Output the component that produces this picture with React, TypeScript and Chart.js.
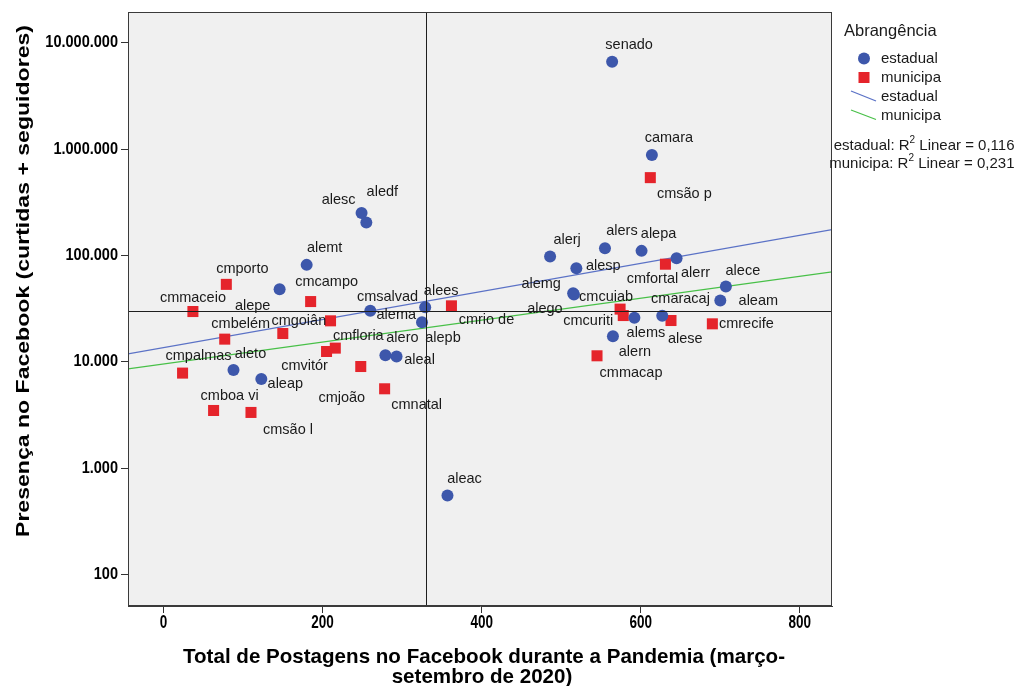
import { useEffect, useRef } from "react";
import { Chart, registerables } from "chart.js";

Chart.register(...registerables);

// Assembleias estaduais, Senado e Câmara
const estadualNames = [
  "senado", "camara", "alesc", "aledf", "alemt", "alepe", "alema", "alees", "alepb",
  "aleto", "aleap", "alero", "aleal", "aleac", "alerj", "alers", "alepa", "alesp",
  "alerr", "alece", "alemg", "alego", "aleam", "alems", "alese", "alern",
];
const estadualPosts = [
  564, 614, 249, 255, 180, 146, 260, 329, 325,
  88, 123, 279, 293, 357, 486, 555, 601, 519,
  645, 707, 515, 516, 700, 592, 627, 565,
];
const estadualPresence = [
  6640000, 882000, 251500, 203800, 81600, 48250, 30150, 32670, 23610,
  8360, 6880, 11510, 11220, 554, 97650, 117100, 110500, 75950,
  94300, 51000, 44240, 43000, 37680, 25900, 27050, 17370,
];

// Câmaras municipais das capitais
const municipaNames = [
  "cmsão p", "cmporto", "cmcampo", "cmmaceio", "cmsalvad", "cmgoiân", "cmbelém",
  "cmfloria", "cmvitór", "cmjoão", "cmnatal", "cmpalmas", "cmboa vi", "cmsão l",
  "cmrio de", "cmfortal", "cmcuiab", "cmcuriti", "cmaracaj", "cmrecife", "cmmacap",
];
const municipaPosts = [
  612, 79, 185, 37, 210, 150, 77,
  216, 205, 248, 278, 24, 63, 110,
  362, 631, 574, 578, 638, 690, 545,
];
const municipaPresence = [
  539700, 53500, 36870, 29700, 24290, 18450, 16340,
  13450, 12500, 9030, 5575, 7830, 3485, 3340,
  33600, 82800, 31300, 27230, 24450, 22760, 11390,
];

// Axis ranges and ticks
const xMin = -44.6;
const xMax = 840.4;
const yMin = 50.5;
const yMax = 19500000;
const xTickValues = [0, 200, 400, 600, 800];
const yTickValues = [100, 1000, 10000, 100000, 1000000, 10000000];

// Reference lines (posts, presence)
const refPosts = 330;
const refPresence = 30150;

// Linear fits in log scale: values at xMin and xMax
const estadualFit = [11890, 175100];
const municipaFit = [8594, 70150];
const estadualR2 = "0,116";
const municipaR2 = "0,231";

const BLUE = "#3D57AB";
const RED = "#E5242B";
const BLUE_LINE = "#5B72C6";
const GREEN_LINE = "#48C048";
const PLOT_BG = "#F0F0F0";
const FONT = "'Liberation Sans', Arial, sans-serif";

// Label placement relative to each marker (label centre, px)
const labelOffsets: Record<string, [number, number]> = {
  senado: [17, -17], camara: [17, -17], alesc: [-23, -13], aledf: [16, -31],
  alemt: [18, -17], alepe: [-27, 17], alema: [26, 4], alees: [16, -16],
  alepb: [21, 16], aleto: [17, -16], aleap: [24, 5], alero: [17, -17],
  aleal: [23, 4], aleac: [17, -16], alerj: [17, -17], alers: [17, -17],
  alepa: [17, -17], alesp: [27, -2], alerr: [19, 15], alece: [17, -16],
  alemg: [-32, -9], alego: [-29, 15], aleam: [38, 0], alems: [11.5, 15],
  alese: [23, 23], alern: [22, 16],
  "cmsão p": [34, 16], cmporto: [16, -15.5], cmcampo: [16, -20], cmmaceio: [0, -13.5],
  cmsalvad: [57, -24], "cmgoiân": [16, -13], "cmbelém": [16, -15], cmfloria: [23, -12],
  "cmvitór": [-22, 14], "cmjoão": [-19, 31.5], cmnatal: [32, 16], cmpalmas: [16, -17],
  "cmboa vi": [16, -14.5], "cmsão l": [37, 18], "cmrio de": [35, 14], cmfortal: [-13, 15],
  cmcuiab: [-14, -12.6], cmcuriti: [-35, 5], cmaracaj: [9.5, -22], cmrecife: [34, 0],
  cmmacap: [34, 17],
};

const formatThousands = (v: number) =>
  String(Math.round(v)).replace(/\B(?=(\d{3})+(?!\d))/g, ".");

// Draws text with a horizontal squeeze factor
function squeezedText(
  ctx: CanvasRenderingContext2D,
  text: string,
  x: number,
  y: number,
  font: string,
  scaleX: number,
  align: CanvasTextAlign = "center",
  rotate = 0
) {
  ctx.save();
  ctx.font = font;
  ctx.translate(x, y);
  if (rotate) ctx.rotate(rotate);
  ctx.scale(scaleX, 1);
  ctx.textAlign = align;
  ctx.textBaseline = "middle";
  ctx.fillText(text, 0, 0);
  ctx.restore();
}

const decorations = {
  id: "decorations",
  beforeDraw(chart: Chart) {
    const { ctx, chartArea: a } = chart;
    ctx.save();
    ctx.fillStyle = "#ffffff";
    ctx.fillRect(0, 0, chart.width, chart.height);
    ctx.fillStyle = PLOT_BG;
    ctx.fillRect(a.left, a.top, a.right - a.left, a.bottom - a.top);
    ctx.restore();
  },
  afterDatasetsDraw(chart: Chart) {
    const { ctx, chartArea: a } = chart;
    const xs = chart.scales.x;
    const ys = chart.scales.y;
    ctx.save();
    // reference lines
    ctx.strokeStyle = "#1e1e1e";
    ctx.lineWidth = 1;
    const rx = Math.round(xs.getPixelForValue(refPosts)) + 0.5;
    const ry = Math.round(ys.getPixelForValue(refPresence)) + 0.5;
    ctx.beginPath();
    ctx.moveTo(rx, a.top);
    ctx.lineTo(rx, a.bottom);
    ctx.moveTo(a.left, ry);
    ctx.lineTo(a.right, ry);
    ctx.stroke();

    // point labels
    ctx.fillStyle = "#1a1a1a";
    ctx.font = `14.5px ${FONT}`;
    ctx.textAlign = "center";
    ctx.textBaseline = "middle";
    [0, 1].forEach((di) => {
      const names = di === 0 ? estadualNames : municipaNames;
      const meta = chart.getDatasetMeta(di);
      meta.data.forEach((el: any, i: number) => {
        const off = labelOffsets[names[i]] || [16, -16];
        ctx.fillText(names[i], el.x + off[0], el.y + off[1]);
      });
    });
    ctx.restore();
  },
  afterDraw(chart: Chart) {
    const { ctx, chartArea: a } = chart;
    const xs = chart.scales.x;
    const ys = chart.scales.y;
    ctx.save();
    // plot frame
    ctx.strokeStyle = "#3a3a3a";
    ctx.lineWidth = 1;
    ctx.strokeRect(a.left + 0.5, a.top + 0.5, a.right - a.left - 1, a.bottom - a.top - 1);

    // tick labels (condensed bold)
    ctx.fillStyle = "#000000";
    xTickValues.forEach((v) => {
      squeezedText(ctx, String(v), xs.getPixelForValue(v), a.bottom + 17, `bold 18px ${FONT}`, 0.75);
    });
    yTickValues.forEach((v) => {
      squeezedText(ctx, formatThousands(v), a.left - 10, ys.getPixelForValue(v), `bold 16.5px ${FONT}`, 0.88, "right");
    });

    // axis titles
    const xFont = `bold 21px ${FONT}`;
    ctx.font = xFont;
    const line1 = "Total de Postagens no Facebook durante a Pandemia (março-";
    const line2 = "setembro de 2020)";
    const s1 = 602 / ctx.measureText(line1).width;
    squeezedText(ctx, line1, 484, 657, xFont, s1);
    squeezedText(ctx, line2, 482, 677, xFont, s1);

    const yFont = `bold 19px ${FONT}`;
    ctx.font = yFont;
    const yTitle = "Presença no Facebook (curtidas + seguidores)";
    const sy = 512 / ctx.measureText(yTitle).width;
    squeezedText(ctx, yTitle, 24, 281, yFont, sy, "center", -Math.PI / 2);

    // legend
    ctx.fillStyle = "#1a1a1a";
    ctx.textAlign = "left";
    ctx.textBaseline = "middle";
    ctx.font = `16.5px ${FONT}`;
    ctx.fillText("Abrangência", 844, 31);
    ctx.font = `15px ${FONT}`;
    ctx.fillStyle = BLUE;
    ctx.beginPath();
    ctx.arc(864, 58.5, 6, 0, Math.PI * 2);
    ctx.fill();
    ctx.fillStyle = RED;
    ctx.fillRect(858.5, 72, 11, 11);
    ctx.lineWidth = 1.2;
    ctx.strokeStyle = BLUE_LINE;
    ctx.beginPath();
    ctx.moveTo(851, 91);
    ctx.lineTo(876, 101);
    ctx.stroke();
    ctx.strokeStyle = GREEN_LINE;
    ctx.beginPath();
    ctx.moveTo(851, 110);
    ctx.lineTo(876, 119.5);
    ctx.stroke();
    ctx.fillStyle = "#1a1a1a";
    ctx.fillText("estadual", 881, 59);
    ctx.fillText("municipa", 881, 77.5);
    ctx.fillText("estadual", 881, 97);
    ctx.fillText("municipa", 881, 115.5);

    // R² notes, right aligned
    const r2Line = (prefix: string, value: string, y: number) => {
      ctx.font = `15px ${FONT}`;
      const p1 = `${prefix}: R`;
      const p3 = ` Linear = ${value}`;
      const w1 = ctx.measureText(p1).width;
      const w3 = ctx.measureText(p3).width;
      ctx.font = `10px ${FONT}`;
      const w2 = ctx.measureText("2").width;
      const right = 1014.5;
      let x = right - (w1 + w2 + w3);
      ctx.font = `15px ${FONT}`;
      ctx.fillText(p1, x, y);
      x += w1;
      ctx.font = `10px ${FONT}`;
      ctx.fillText("2", x, y - 5);
      x += w2;
      ctx.font = `15px ${FONT}`;
      ctx.fillText(p3, x, y);
    };
    r2Line("estadual", estadualR2, 145.5);
    r2Line("municipa", municipaR2, 163.5);
    ctx.restore();
  },
};

export default function App() {
  const canvasRef = useRef<HTMLCanvasElement | null>(null);

  useEffect(() => {
    const canvas = canvasRef.current;
    if (!canvas) return;
    const chart = new Chart(canvas, {
      type: "scatter",
      data: {
        datasets: [
          {
            label: "estadual",
            data: estadualNames.map((_, i) => ({ x: estadualPosts[i], y: estadualPresence[i] })),
            pointStyle: "circle",
            pointRadius: 6,
            pointBackgroundColor: BLUE,
            pointBorderWidth: 0,
            borderWidth: 0,
          },
          {
            label: "municipa",
            data: municipaNames.map((_, i) => ({ x: municipaPosts[i], y: municipaPresence[i] })),
            pointStyle: "rect",
            pointRadius: 7.8,
            pointBackgroundColor: RED,
            pointBorderWidth: 0,
            borderWidth: 0,
          },
          {
            type: "line",
            label: "estadual fit",
            data: [
              { x: xMin, y: estadualFit[0] },
              { x: xMax, y: estadualFit[1] },
            ],
            showLine: true,
            borderColor: BLUE_LINE,
            borderWidth: 1.2,
            pointRadius: 0,
            fill: false,
          } as any,
          {
            type: "line",
            label: "municipa fit",
            data: [
              { x: xMin, y: municipaFit[0] },
              { x: xMax, y: municipaFit[1] },
            ],
            showLine: true,
            borderColor: GREEN_LINE,
            borderWidth: 1.2,
            pointRadius: 0,
            fill: false,
          } as any,
        ],
      },
      options: {
        responsive: false,
        animation: false,
        devicePixelRatio: 1,
        events: [],
        layout: { padding: { top: 12, right: 186, left: 0, bottom: 0 } },
        plugins: {
          legend: { display: false },
          tooltip: { enabled: false },
          title: { display: false },
        },
        scales: {
          x: {
            type: "linear",
            min: xMin,
            max: xMax,
            afterBuildTicks: (scale: any) => {
              scale.ticks = xTickValues.map((v) => ({ value: v }));
            },
            afterFit: (scale: any) => {
              scale.height = 80;
            },
            grid: {
              drawOnChartArea: false,
              drawTicks: true,
              tickLength: 7,
              color: "#333333",
            },
            border: { display: true, color: "#3a3a3a" },
            ticks: { display: false },
          },
          y: {
            type: "logarithmic",
            min: yMin,
            max: yMax,
            afterBuildTicks: (scale: any) => {
              scale.ticks = yTickValues.map((v) => ({ value: v }));
            },
            afterFit: (scale: any) => {
              scale.width = 128;
            },
            grid: {
              drawOnChartArea: false,
              drawTicks: true,
              tickLength: 7,
              color: "#333333",
            },
            border: { display: true, color: "#3a3a3a" },
            ticks: { display: false },
          },
        },
      },
      plugins: [decorations],
    });
    return () => chart.destroy();
  }, []);

  return (
    <div style={{ position: "absolute", left: 0, top: 0, width: 1018, height: 686, background: "#fff" }}>
      <canvas ref={canvasRef} width={1018} height={686} style={{ display: "block" }} />
    </div>
  );
}
